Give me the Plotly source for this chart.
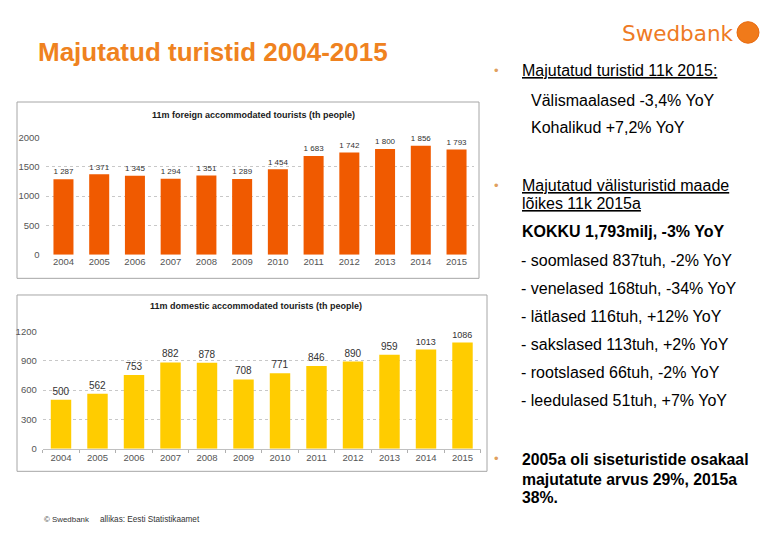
import plotly.graph_objects as go

years = ["2004", "2005", "2006", "2007", "2008", "2009", "2010", "2011", "2012", "2013", "2014", "2015"]
foreign = [1287, 1371, 1345, 1294, 1351, 1289, 1454, 1683, 1742, 1800, 1856, 1793]
domestic = [500, 562, 753, 882, 878, 708, 771, 846, 890, 959, 1013, 1086]
foreign_ticks = [0, 500, 1000, 1500, 2000]
domestic_ticks = [0, 300, 600, 900, 1200]

title_main = "Majutatud turistid 2004-2015"
title_foreign = "11m foreign accommodated tourists (th people)"
title_domestic = "11m domestic accommodated tourists (th people)"

W, H = 780, 540
def px(x):
    return x / W
def py(y):
    return 1 - y / H

FONT = "Arial, Liberation Sans, sans-serif"
ORANGE_BAR = "#F05A00"
YELLOW_BAR = "#FFCC00"
TITLE_ORANGE = "#EF8220"

fig = go.Figure()

fig.add_trace(go.Bar(
    x=years, y=foreign, xaxis="x", yaxis="y",
    marker=dict(color=ORANGE_BAR, line=dict(width=0)),
    text=[f"{v:,}".replace(",", " ") for v in foreign],
    textposition="outside", cliponaxis=False,
    textfont=dict(family=FONT, size=9.5, color="#333333"),
    hoverinfo="skip", showlegend=False,
))
fig.add_trace(go.Bar(
    x=years, y=domestic, xaxis="x2", yaxis="y2",
    marker=dict(color=YELLOW_BAR, line=dict(width=0)),
    text=[str(v) for v in domestic],
    textposition="outside", cliponaxis=False,
    textfont=dict(family=FONT, size=10, color="#333333"),
    hoverinfo="skip", showlegend=False,
))

axis_font = dict(family=FONT, size=9.5, color="#555555")

fig.update_layout(
    width=W, height=H,
    margin=dict(l=0, r=0, t=0, b=0),
    paper_bgcolor="white", plot_bgcolor="white",
    bargap=0.44,
    xaxis=dict(domain=[px(45.6), px(474.4)], anchor="y", type="category",
               tickfont=axis_font, showgrid=False, zeroline=False, ticks=""),
    yaxis=dict(domain=[py(254), py(134)], anchor="x", range=[0, 2000],
               tickvals=foreign_ticks, tickfont=axis_font, ticklabelstandoff=5,
               showgrid=True, gridcolor="#C8C8C8", griddash="dot", gridwidth=1,
               zeroline=False, ticks=""),
    xaxis2=dict(domain=[px(42.75), px(480.75)], anchor="y2", type="category",
                tickfont=axis_font, showgrid=False, zeroline=False,
                showline=True, linecolor="#C0C0C0", linewidth=1,
                ticks="outside", tickson="boundaries", ticklen=3, tickcolor="#B0B0B0"),
    yaxis2=dict(domain=[py(452), py(332)], anchor="x2", range=[0, 1200],
                tickvals=domestic_ticks, tickfont=axis_font, ticklabelstandoff=5,
                showgrid=True, gridcolor="#C8C8C8", griddash="dot", gridwidth=1,
                zeroline=False, ticks=""),
)

# chart frames
fig.add_shape(type="rect", xref="paper", yref="paper",
              x0=px(17), x1=px(479), y0=py(278), y1=py(98),
              line=dict(color="#A6A6A6", width=1), layer="below")
fig.add_shape(type="rect", xref="paper", yref="paper",
              x0=px(17), x1=px(487), y0=py(475), y1=py(295),
              line=dict(color="#A6A6A6", width=1), layer="below")

# logo circle
fig.add_shape(type="circle", xref="paper", yref="paper",
              x0=px(737), x1=px(759), y0=py(38), y1=py(16),
              fillcolor="#F07A1A", line=dict(color="#E86A10", width=1))

def note(x, y, text, size=14, color="#000000", bold=False, family=FONT, anchor="left"):
    t = f"<b>{text}</b>" if bold else text
    fig.add_annotation(xref="paper", yref="paper", x=px(x), y=py(y),
                       text=t, showarrow=False, xanchor=anchor, yanchor="middle",
                       borderpad=0, font=dict(family=family, size=size, color=color))

note(37, 47, title_main, size=26, color=TITLE_ORANGE, bold=True)
note(678, 28, "Swedbank", size=21.5, color="#EE7A24", family="DejaVu Sans", anchor="center")

note(253, 111, title_foreign, size=9, color="#1a1a1a", bold=True, anchor="center")
note(256, 306, title_domestic, size=9, color="#1a1a1a", bold=True, anchor="center")

BULLET = "#E0A060"
note(493, 66, "•", size=13, color=BULLET)
note(521, 66, "<u>Majutatud turistid 11k 2015:</u>", size=16)
note(530, 96, "Välismaalased -3,4% YoY", size=16)
note(530, 124, "Kohalikud +7,2% YoY", size=16)

note(493, 183, "•", size=13, color=BULLET)
note(521, 183, "<u>Majutatud välisturistid maade</u>", size=16)
note(521, 202, "<u>lõikes 11k 2015a</u>", size=16)
note(521, 230, "KOKKU 1,793milj, -3% YoY", size=16, bold=True)

items = [
    "- soomlased 837tuh, -2% YoY",
    "- venelased 168tuh, -34% YoY",
    "- lätlased 116tuh, +12% YoY",
    "- sakslased 113tuh, +2% YoY",
    "- rootslased 66tuh, -2% YoY",
    "- leedulased 51tuh, +7% YoY",
]
for i, t in enumerate(items):
    note(520, 260 + i * 28.6, t, size=16)

note(493, 462, "•", size=13, color=BULLET)
note(521, 463, "2005a oli siseturistide osakaal", size=15.8, bold=True)
note(521, 483, "majutatute arvus 29%, 2015a", size=15.8, bold=True)
note(521, 502, "38%.", size=15.8, bold=True)

note(43, 524, "© Swedbank", size=7.9, color="#333333")
note(99, 524, "allikas: Eesti Statistikaamet", size=8.2, color="#333333")

fig.write_html(
    "out.html",
    config={"displayModeBar": False},
    post_script="document.body.style.margin='0px';document.documentElement.style.overflow='hidden';",
)
